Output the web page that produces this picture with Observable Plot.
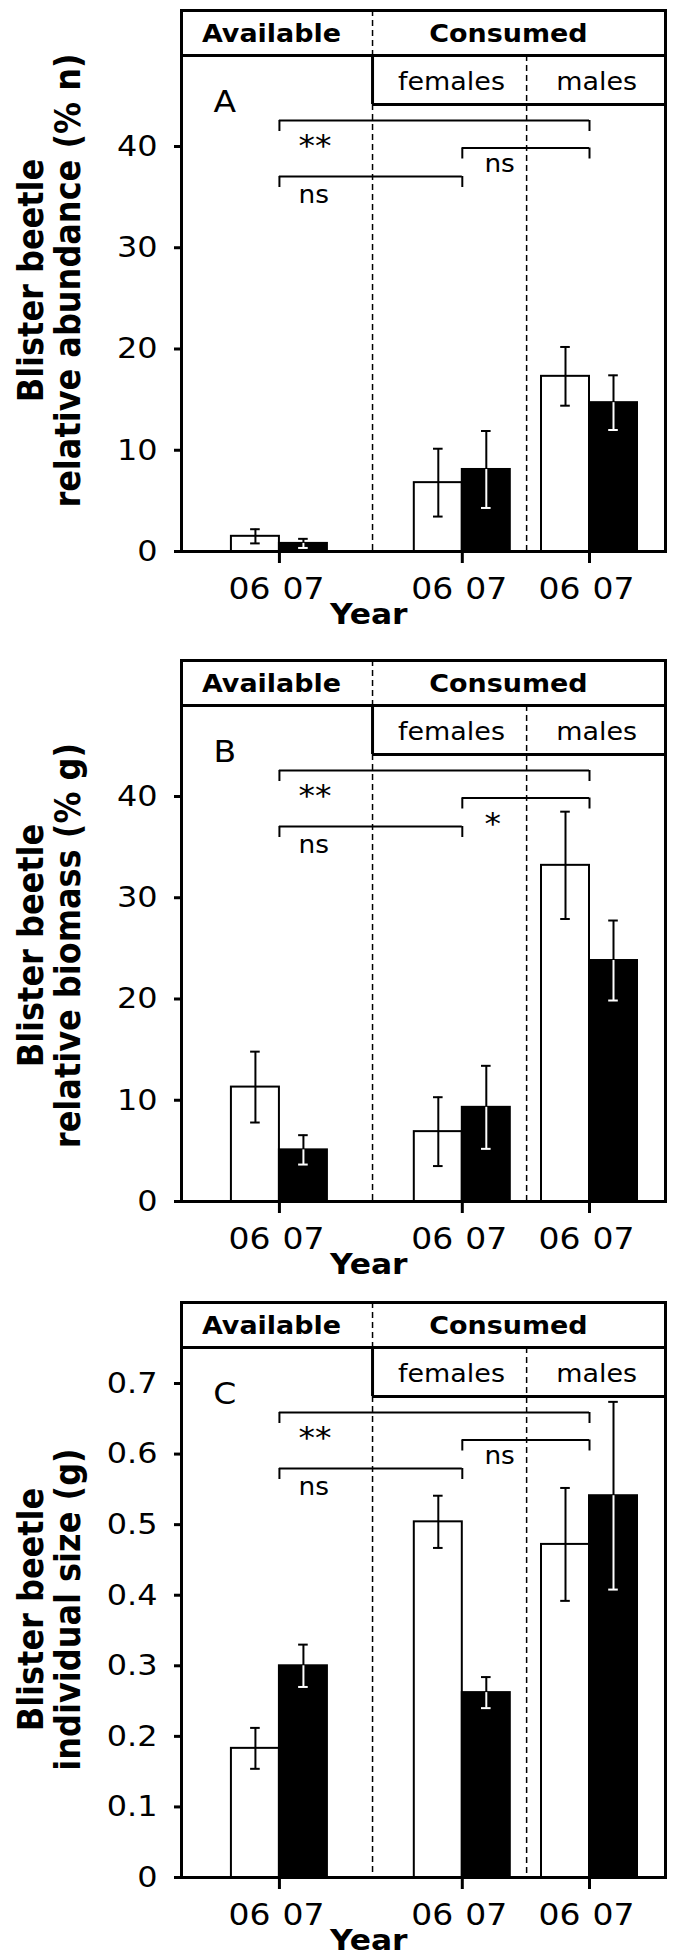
<!DOCTYPE html>
<html><head><meta charset="utf-8">
<script src="https://cdn.jsdelivr.net/npm/d3@7"></script>
<script src="https://cdn.jsdelivr.net/npm/@observablehq/plot@0.6"></script>
<style>
html,body{margin:0;padding:0;background:#fff;}
#chart svg{display:block;}
</style></head><body><div id="chart"></div>
<script>
// ---- categories & labels ----
const groups = ["Available", "Consumed females", "Consumed males"];
const years = ["06", "07"];
const headerTop = ["Available", "Consumed"];
const headerSub = ["females", "males"];
const panelLetters = ["A", "B", "C"];
const yLabelLine1 = ["Blister beetle", "Blister beetle", "Blister beetle"];
const yLabelLine2 = ["relative abundance (% n)", "relative biomass (% g)", "individual size (g)"];

// ---- values (order: Available 06, 07 | females 06, 07 | males 06, 07) ----
const abundanceMean = [1.5, 0.8, 6.8, 8.1, 17.3, 14.7];
const abundanceErr  = [0.7, 0.45, 3.35, 3.8, 2.9, 2.7];
const biomassMean   = [11.3, 5.1, 6.9, 9.3, 33.2, 23.8];
const biomassErr    = [3.5, 1.45, 3.4, 4.1, 5.3, 3.95];
const sizeMean      = [0.183, 0.300, 0.504, 0.262, 0.472, 0.541];
const sizeErr       = [0.029, 0.030, 0.037, 0.022, 0.080, 0.133];

// significance: [Available vs males, females vs males, Available vs females]
const sigA = ["**", "ns", "ns"];
const sigB = ["**", "*", "ns"];
const sigC = ["**", "ns", "ns"];
const bracketPairs = [[0, 2], [1, 2], [0, 1]];

// tick labels
const ticksAB = [0, 10, 20, 30, 40];
const ticksC = [0, 0.1, 0.2, 0.3, 0.4, 0.5, 0.6, 0.7];

// ---- layout ----
const W = 674;
const mL = 181, mR = 9;
const barPx = 48;
const xMax = (W - mL - mR) / barPx;
const groupX = [2.04, 5.85, 8.5];
const dividerX = [3.98, 7.19];
const yearLabelShift = [-0.625, 0.5];
const FONT = "DejaVu Sans";
const STRETCH = 1.1; // horizontal glyph stretch seen in the reference

const panels = [
  {letter: panelLetters[0], mean: abundanceMean, err: abundanceErr, sig: sigA, ticks: ticksAB, yMax: 53.43,
   height: 648, marginTop: 10, marginBottom: 97, l1: yLabelLine1[0], l2: yLabelLine2[0], labelOff: 270},
  {letter: panelLetters[1], mean: biomassMean, err: biomassErr, sig: sigB, ticks: ticksAB, yMax: 53.43,
   height: 650, marginTop: 12, marginBottom: 97, l1: yLabelLine1[1], l2: yLabelLine2[1], labelOff: 285},
  {letter: panelLetters[2], mean: sizeMean, err: sizeErr, sig: sigC, ticks: ticksC, yMax: 0.8148,
   height: 662, marginTop: 4, marginBottom: 83, l1: yLabelLine1[2], l2: yLabelLine2[2], labelOff: 307}
];

const chart = document.getElementById("chart");

for (const p of panels) {
  const plotH = p.height - p.marginTop - p.marginBottom;
  const off = px => p.yMax * (1 - px / plotH); // px below frame top -> data value

  const rows = p.mean.map((v, i) => {
    const g = Math.floor(i / 2), yr = i % 2;
    const x1 = groupX[g] - 1 + yr;
    return {g, yr, v, e: p.err[i], x1, x2: x1 + 1, xc: x1 + 0.5, xl: groupX[g] + yearLabelShift[yr]};
  });
  const white = rows.filter(d => d.yr === 0);
  const black = rows.filter(d => d.yr === 1);

  const bracketLevels = [110, 137.5, 166];
  const labelCenters = [127, 155, 185.5];
  const labelX = [2.44, 6.31, 2.44];
  const brackets = bracketPairs.map(([a, b], k) => ({
    xa: groupX[a], xb: groupX[b], y: off(bracketLevels[k]), yLeg: off(bracketLevels[k] + 11),
    label: p.sig[k], lx: labelX[k], star: p.sig[k] !== "ns",
    ly: off(labelCenters[k] + (p.sig[k] === "ns" ? -1 : 8.4))
  }));
  const ns = brackets.filter(d => !d.star);
  const stars = brackets.filter(d => d.star);

  const dash = {stroke: "black", strokeWidth: 1.5, strokeDasharray: "6,4"};

  const svg = Plot.plot({
    width: W, height: p.height,
    marginLeft: mL, marginRight: mR, marginTop: p.marginTop, marginBottom: p.marginBottom,
    x: {domain: [0, xMax]},
    y: {domain: [0, p.yMax]},
    style: {fontFamily: FONT, fontSize: "29px", color: "black", background: "white", overflow: "visible"},
    marks: [
      // dividers
      Plot.ruleX([dividerX[0]], {x: d => d, y1: off(0), y2: off(45), ...dash}),
      Plot.ruleX([dividerX[0]], {x: d => d, y1: off(94), y2: 0, ...dash}),
      Plot.ruleX([dividerX[1]], {x: d => d, y1: off(45), y2: 0, ...dash}),
      // header lines
      Plot.ruleY([off(45)], {y: d => d, x1: 0, x2: xMax, stroke: "black", strokeWidth: 3}),
      Plot.ruleY([off(94)], {y: d => d, x1: dividerX[0], x2: xMax, stroke: "black", strokeWidth: 3}),
      Plot.ruleX([dividerX[0]], {x: d => d, y1: off(45), y2: off(94), stroke: "black", strokeWidth: 3}),
      // header text
      Plot.text([0], {x: () => 1.875, y: () => off(24), text: () => headerTop[0], fontWeight: "bold", fontSize: 24.5}),
      Plot.text([0], {x: () => 6.81, y: () => off(24), text: () => headerTop[1], fontWeight: "bold", fontSize: 24.5}),
      Plot.text([0], {x: () => 5.625, y: () => off(72), text: () => headerSub[0], fontSize: 24.5}),
      Plot.text([0], {x: () => 8.65, y: () => off(72), text: () => headerSub[1], fontSize: 24.5}),
      Plot.text([0], {x: () => 0.9, y: () => off(92), text: () => p.letter, fontSize: 30}),
      // bars
      Plot.rectY(white, {x1: "x1", x2: "x2", y1: 0, y2: "v", fill: "white", stroke: "black", strokeWidth: 2}),
      Plot.rectY(black, {x1: "x1", x2: "x2", y1: 0, y2: "v", fill: "black", stroke: "black", strokeWidth: 2}),
      // error bars (white bars: black whisker)
      Plot.ruleX(white, {x: "xc", y1: d => d.v - d.e, y2: d => d.v + d.e, stroke: "black", strokeWidth: 2}),
      Plot.ruleY(white, {y: d => d.v - d.e, x1: d => d.xc - 0.1, x2: d => d.xc + 0.1, stroke: "black", strokeWidth: 2}),
      Plot.ruleY(white, {y: d => d.v + d.e, x1: d => d.xc - 0.1, x2: d => d.xc + 0.1, stroke: "black", strokeWidth: 2}),
      // error bars (black bars: white inside, black above)
      Plot.ruleX(black, {x: "xc", y1: d => d.v, y2: d => d.v + d.e, stroke: "black", strokeWidth: 2}),
      Plot.ruleY(black, {y: d => d.v + d.e, x1: d => d.xc - 0.1, x2: d => d.xc + 0.1, stroke: "black", strokeWidth: 2}),
      Plot.ruleX(black, {x: "xc", y1: d => d.v - d.e, y2: d => d.v, stroke: "white", strokeWidth: 2}),
      Plot.ruleY(black, {y: d => d.v - d.e, x1: d => d.xc - 0.1, x2: d => d.xc + 0.1, stroke: "white", strokeWidth: 2}),
      // significance brackets
      Plot.ruleY(brackets, {y: "y", x1: "xa", x2: "xb", stroke: "black", strokeWidth: 2}),
      Plot.ruleX(brackets, {x: "xa", y1: "y", y2: "yLeg", stroke: "black", strokeWidth: 2}),
      Plot.ruleX(brackets, {x: "xb", y1: "y", y2: "yLeg", stroke: "black", strokeWidth: 2}),
      Plot.text(ns, {x: "lx", y: "ly", text: "label", textAnchor: "start", fontSize: 24}),
      Plot.text(stars, {x: "lx", y: "ly", text: "label", textAnchor: "start", fontSize: 30}),
      // frame
      Plot.frame({stroke: "black", strokeWidth: 3}),
      // axes
      Plot.axisY({ticks: p.ticks, tickSize: 7, tickPadding: 17, strokeWidth: 3, fontSize: 29, tickFormat: d => String(d), label: null}),
      Plot.axisX({ticks: groupX, tickSize: 12, strokeWidth: 3, tickFormat: () => "", label: null}),
      // year tick labels under each bar
      Plot.text(rows, {x: "xl", y: () => 0, text: d => years[d.yr], dy: 38, fontSize: 30}),
      Plot.text([0], {x: () => 3.9, y: () => 0, text: () => "Year", dy: 63, fontWeight: "bold", fontSize: 28.5}),
      // y-axis title (two lines)
      Plot.text([0], {frameAnchor: "left", y: () => off(p.labelOff), text: () => p.l1, rotate: -90, dx: -150, textAnchor: "middle", fontWeight: "bold", fontSize: 32}),
      Plot.text([0], {frameAnchor: "left", y: () => off(p.labelOff), text: () => p.l2, rotate: -90, dx: -113, textAnchor: "middle", fontWeight: "bold", fontSize: 32})
    ]
  });

  // stretch glyphs horizontally about each text's anchor, as in the reference
  svg.querySelectorAll("text").forEach(t => {
    const tr = t.getAttribute("transform");
    if (tr && tr.trim().startsWith("translate(")) {
      const i = tr.indexOf(")") + 1;
      t.setAttribute("transform", tr.slice(0, i) + ` scale(${STRETCH},1)` + tr.slice(i));
    } else {
      const x = parseFloat(t.getAttribute("x")) || 0;
      t.setAttribute("transform", `translate(${x},0) scale(${STRETCH},1) translate(${-x},0)` + (tr ? " " + tr : ""));
    }
  });
  chart.appendChild(svg);
}
</script></body></html>
